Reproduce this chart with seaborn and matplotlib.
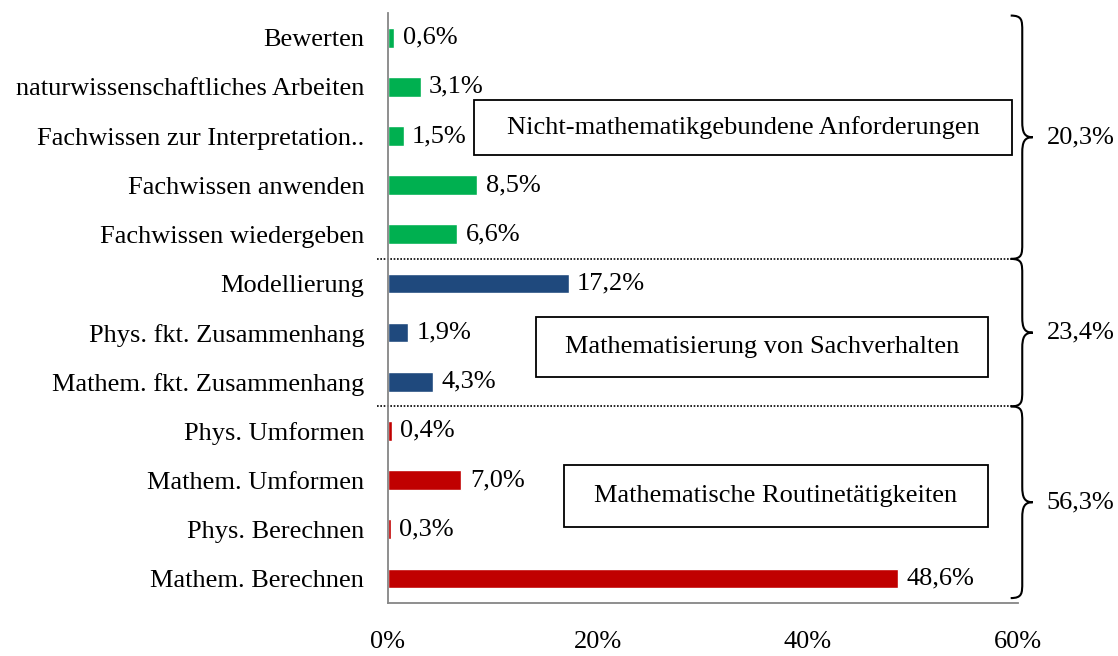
import numpy as np
import pandas as pd
import matplotlib
matplotlib.use("Agg")
import matplotlib.pyplot as plt
from matplotlib.path import Path
from matplotlib.patches import PathPatch, Rectangle
import seaborn as sns

# data
categories = ["Bewerten", "naturwissenschaftliches Arbeiten", "Fachwissen zur Interpretation..",
              "Fachwissen anwenden", "Fachwissen wiedergeben", "Modellierung",
              "Phys. fkt. Zusammenhang", "Mathem. fkt. Zusammenhang", "Phys. Umformen",
              "Mathem. Umformen", "Phys. Berechnen", "Mathem. Berechnen"]
values = [0.6, 3.1, 1.5, 8.5, 6.6, 17.2, 1.9, 4.3, 0.4, 7.0, 0.3, 48.6]
groups = ["nicht"] * 5 + ["mathematisierung"] * 3 + ["routine"] * 4
group_names = ["Nicht-mathematikgebundene Anforderungen",
               "Mathematisierung von Sachverhalten",
               "Mathematische Routinetätigkeiten"]
group_totals = ["20,3%", "23,4%", "56,3%"]
xticks = [0, 20, 40, 60]

colors = {"nicht": "#00B050", "mathematisierung": "#1F497D", "routine": "#C00000"}
grey = "#868686"

sns.set_style("white")
plt.rcParams["font.family"] = ["Liberation Serif", "DejaVu Serif"]
plt.rcParams["text.color"] = "black"
plt.rcParams["xtick.color"] = "black"
plt.rcParams["ytick.color"] = "black"
fs = 19

df = pd.DataFrame({"Kategorie": categories, "Anteil": values, "Gruppe": groups})

fig = plt.figure(figsize=(11.18, 6.56), dpi=100)
ax = fig.add_axes([0.347, 0.0808, 0.9106 - 0.347, 0.980 - 0.0808])
sns.barplot(data=df, x="Anteil", y="Kategorie", hue="Gruppe", palette=colors,
            dodge=False, width=0.4, legend=False, ax=ax, orient="h", saturation=1)

for c in ax.containers:
    ax.bar_label(c, labels=[f"{v:.1f}%".replace(".", ",") for v in c.datavalues],
                 padding=6, fontsize=fs, color="black")

ax.set_xlim(0, 60)
ax.set_ylim(len(categories) - 0.5, -0.5)
ax.set_xticks(xticks)
ax.set_xticklabels([f"{t}%" for t in xticks], fontsize=fs)
ax.set_xlabel("")
ax.set_ylabel("")
ax.tick_params(axis="y", which="major", length=0, pad=17, labelsize=fs, labelcolor="black")
ax.set_yticks(np.arange(-0.5, len(categories)), minor=True)
ax.tick_params(axis="y", which="minor", length=4.5, color=grey, width=1.2)
ax.tick_params(axis="x", length=6, color=grey, width=1.2, pad=14, labelcolor="black")
for s in ["top", "right"]:
    ax.spines[s].set_visible(False)
for s in ["left", "bottom"]:
    ax.spines[s].set_color(grey)
    ax.spines[s].set_linewidth(1.3)

# dotted separators between groups
for yb in [4.5, 7.5]:
    ax.plot([-1.05, 59.7], [yb, yb], color="black", lw=1.2, ls=(0, (1, 1)), clip_on=False)

# boxes with group names
boxes = [(8.2, 1.27, 59.4, 2.39), (14.1, 5.68, 57.1, 6.90), (16.8, 8.69, 57.1, 9.95)]
for (x0, y0, x1, y1), name in zip(boxes, group_names):
    ax.add_patch(Rectangle((x0, y0), x1 - x0, y1 - y0, fill=False, ec="black", lw=1.3))
    ax.text((x0 + x1) / 2, (y0 + y1) / 2, name, ha="center", va="center", fontsize=fs)


def brace(y0, y1, xl=59.3, xv=60.4, xt=61.4, r=0.32):
    ym = (y0 + y1) / 2
    verts = [(xl, y0), (xv, y0), (xv, y0 + r * 0.3), (xv, y0 + r),
             (xv, ym - r),
             (xv, ym - r * 0.3), (xv + 0.2, ym), (xt, ym),
             (xv + 0.2, ym), (xv, ym + r * 0.3), (xv, ym + r),
             (xv, y1 - r),
             (xv, y1 - r * 0.3), (xv, y1), (xl, y1)]
    codes = [Path.MOVETO, Path.CURVE4, Path.CURVE4, Path.CURVE4,
             Path.LINETO,
             Path.CURVE4, Path.CURVE4, Path.CURVE4,
             Path.CURVE4, Path.CURVE4, Path.CURVE4,
             Path.LINETO,
             Path.CURVE4, Path.CURVE4, Path.CURVE4]
    ax.add_patch(PathPatch(Path(verts, codes), fill=False, ec="black", lw=1.5, clip_on=False))
    return ym


spans = [(-0.45, 4.5), (4.5, 7.5), (7.5, 11.4)]
for (y0, y1), tot in zip(spans, group_totals):
    ym = brace(y0, y1)
    ax.text(62.7, ym, tot, ha="left", va="center", fontsize=fs, clip_on=False)

fig.savefig("out.png", dpi=100)
